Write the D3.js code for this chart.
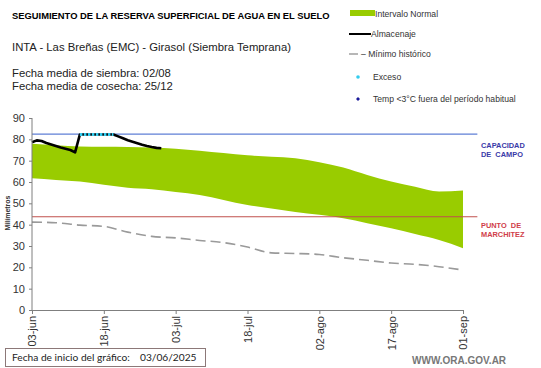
<!DOCTYPE html>
<html>
<head>
<meta charset="utf-8">
<script src="https://cdn.jsdelivr.net/npm/d3@7"></script>
<style>
  body { margin: 0; background: #fff; }
  svg { display: block; font-family: "Liberation Sans", Arial, sans-serif; }
</style>
</head>
<body>
<div id="chart"></div>
<script>
// fechas de los ejes
const startDate = "2025-06-03";
const endDate = "2025-09-01";
const tickLabels = ["03-jun", "18-jun", "03-jul", "18-jul", "02-ago", "17-ago", "01-sep"];
const yTicks = [0, 10, 20, 30, 40, 50, 60, 70, 80, 90];

// intervalo normal (cada 5 dias desde el inicio)
const bandDays = [0, 5, 10, 15, 20, 25, 30, 35, 40, 45, 50, 55, 60, 65, 70, 75, 80, 85, 90];
const bandUpper = [77.9, 77.2, 76.6, 76.5, 76.4, 76.2, 75.6, 74.7, 73.6, 72.5, 71.8, 71.1, 69.3, 66.8, 63.3, 60.2, 57.8, 55.5, 56.0];
const bandLower = [61.7, 60.9, 60.2, 58.7, 57.3, 56.6, 55.3, 53.9, 51.6, 49.2, 47.6, 45.9, 44.6, 43.0, 40.7, 38.3, 35.6, 32.8, 29.0];

// minimo historico
const minDays = [0, 5, 10, 15, 20, 25, 30, 35, 40, 45, 50, 55, 60, 65, 70, 75, 80, 85, 90];
const minValues = [41.2, 40.9, 39.8, 39.2, 36.5, 34.5, 33.8, 32.6, 31.6, 29.5, 26.8, 26.5, 26.0, 24.5, 23.3, 22.0, 21.4, 20.3, 18.7];

// almacenaje diario
const storage = [78.6, 79.5, 79.2, 78.3, 77.6, 76.9, 76.2, 75.6, 75.0, 73.9,
  82.3, 82.3, 82.3, 82.3, 82.3, 82.3, 82.3, 82.3,
  81.4, 80.5, 79.6, 78.9, 78.2, 77.5, 76.9, 76.4, 76.0, 75.8];
// dias con exceso
const excessDays = [10, 11, 12, 13, 14, 15, 16, 17];

const capacidadCampo = 82.4;
const puntoMarchitez = 43.7;

const W = 541, H = 368;
const mLeft = 32, mRight = 463, mTop = 118, mBottom = 310;

const parse = d3.timeParse("%Y-%m-%d");
const t0 = parse(startDate);
const day = i => d3.timeDay.offset(t0, i);

const svg = d3.select("#chart").append("svg")
    .attr("width", W)
    .attr("height", H);

const x = d3.scaleTime()
    .domain([t0, parse(endDate)])
    .range([mLeft, mRight]);

const y = d3.scaleLinear()
    .domain([0, 90])
    .range([mBottom, mTop]);

// banda verde
const band = bandDays.map((d, i) => ({ t: day(d), hi: bandUpper[i], lo: bandLower[i] }));
svg.append("path")
    .datum(band)
    .attr("fill", "#99cc00")
    .attr("d", d3.area().x(d => x(d.t)).y0(d => y(d.lo)).y1(d => y(d.hi)).curve(d3.curveMonotoneX));

// lineas de referencia
const refEnd = d3.timeDay.offset(parse(endDate), 3);
svg.append("line")
    .attr("x1", x(t0)).attr("x2", x(refEnd))
    .attr("y1", y(capacidadCampo)).attr("y2", y(capacidadCampo))
    .attr("stroke", "#5f7fd6").attr("stroke-width", 1.2);
svg.append("line")
    .attr("x1", x(t0)).attr("x2", x(refEnd))
    .attr("y1", y(puntoMarchitez)).attr("y2", y(puntoMarchitez))
    .attr("stroke", "#c0504d").attr("stroke-width", 1.2);

// minimo historico
svg.append("path")
    .datum(minDays.map((d, i) => ({ t: day(d), v: minValues[i] })))
    .attr("fill", "none")
    .attr("stroke", "#9a9a9a")
    .attr("stroke-width", 1.6)
    .attr("stroke-dasharray", "10,5")
    .attr("d", d3.line().x(d => x(d.t)).y(d => y(d.v)).curve(d3.curveMonotoneX));

// almacenaje
const line = d3.line().x(d => x(d.t)).y(d => y(d.v));
svg.append("path")
    .datum(storage.map((v, i) => ({ t: day(i), v })))
    .attr("fill", "none")
    .attr("stroke", "#000")
    .attr("stroke-width", 2.6)
    .attr("stroke-linejoin", "round")
    .attr("d", line);

// exceso
svg.append("path")
    .datum(excessDays.map(d => ({ t: day(d), v: storage[d] })))
    .attr("fill", "none")
    .attr("stroke", "#33ccee")
    .attr("stroke-width", 3)
    .attr("stroke-dasharray", "2.5,1.5")
    .attr("d", line);

// ejes
const yAxis = svg.append("g")
    .attr("transform", `translate(${mLeft},0)`)
    .call(d3.axisLeft(y).tickValues(yTicks).tickSize(3).tickPadding(4));
const xAxis = svg.append("g")
    .attr("transform", `translate(0,${mBottom})`)
    .call(d3.axisBottom(x)
        .tickValues(tickLabels.map((d, i) => day(i * 15)))
        .tickFormat((d, i) => tickLabels[i])
        .tickSize(4)
        .tickSizeOuter(0));
[yAxis, xAxis].forEach(a => {
  a.select(".domain").attr("stroke", "#7f7f7f");
  a.selectAll(".tick line").attr("stroke", "#7f7f7f");
  a.selectAll("text").attr("fill", "#333").style("font-size", "11px");
});
yAxis.select(".domain").attr("d", `M0,${mBottom}V${mTop}`);
xAxis.selectAll("text")
    .attr("transform", "rotate(-90)")
    .attr("text-anchor", "end")
    .attr("x", -6)
    .attr("y", 0)
    .attr("dy", "0.35em");

svg.append("text")
    .attr("transform", `translate(10,213) rotate(-90)`)
    .attr("text-anchor", "middle")
    .style("font-size", "7px")
    .style("font-weight", "bold")
    .attr("fill", "#333")
    .text("Milímetros");

// titulos
svg.append("text").attr("x", 12).attr("y", 19)
    .style("font-size", "9.4px").style("font-weight", "bold")
    .text("SEGUIMIENTO DE LA RESERVA SUPERFICIAL DE AGUA EN EL SUELO");
svg.append("text").attr("x", 12).attr("y", 51)
    .style("font-size", "11.3px").attr("fill", "#222")
    .text("INTA - Las Breñas (EMC) - Girasol (Siembra Temprana)");
svg.append("text").attr("x", 12).attr("y", 77)
    .style("font-size", "11.3px").attr("fill", "#222")
    .text("Fecha media de siembra: 02/08");
svg.append("text").attr("x", 12).attr("y", 90)
    .style("font-size", "11.3px").attr("fill", "#222")
    .text("Fecha media de cosecha: 25/12");

// leyenda
const lg = svg.append("g").style("font-size", "8.6px").attr("fill", "#333");
lg.append("rect").attr("x", 350).attr("y", 10).attr("width", 25).attr("height", 6).attr("fill", "#99cc00");
lg.append("text").attr("x", 375).attr("y", 17).text("Intervalo Normal");
lg.append("line").attr("x1", 349).attr("x2", 371).attr("y1", 34).attr("y2", 34).attr("stroke", "#000").attr("stroke-width", 2);
lg.append("text").attr("x", 371).attr("y", 37).text("Almacenaje");
lg.append("line").attr("x1", 349).attr("x2", 358).attr("y1", 54).attr("y2", 54).attr("stroke", "#999").attr("stroke-width", 1.4);
lg.append("text").attr("x", 361).attr("y", 57).text("– Mínimo histórico");
lg.append("circle").attr("cx", 358).attr("cy", 77).attr("r", 1.8).attr("fill", "#33ccee");
lg.append("text").attr("x", 373).attr("y", 80).text("Exceso");
lg.append("path").attr("d", d3.symbol(d3.symbolSquare, 8)()).attr("transform", "translate(358,99) rotate(45)").attr("fill", "#1a1a9a");
lg.append("text").attr("x", 373).attr("y", 102).text("Temp <3°C fuera del período habitual");

// rotulos a la derecha
const rl = svg.append("g").style("font-size", "7.4px").style("font-weight", "bold");
rl.append("text").attr("x", 481).attr("y", 148).attr("fill", "#3a3aa8").text("CAPACIDAD");
rl.append("text").attr("x", 481).attr("y", 157).attr("fill", "#3a3aa8").attr("xml:space", "preserve").text("DE  CAMPO");
rl.append("text").attr("x", 481).attr("y", 228).attr("fill", "#d0404a").attr("xml:space", "preserve").text("PUNTO  DE");
rl.append("text").attr("x", 481).attr("y", 237).attr("fill", "#d0404a").text("MARCHITEZ");

// recuadro inferior
svg.append("rect").attr("x", 5.5).attr("y", 348.5).attr("width", 200).attr("height", 18)
    .attr("fill", "#fff").attr("stroke", "#8c7878");
svg.append("text").attr("x", 12).attr("y", 361).style("font-size", "10.2px")
    .style("font-family", "Lato, sans-serif").attr("fill", "#222")
    .text("Fecha de inicio del gráfico:");
svg.append("text").attr("x", 140).attr("y", 361).style("font-size", "10.2px")
    .style("font-family", "Lato, sans-serif").attr("fill", "#222")
    .text("03/06/2025");
svg.append("text").attr("x", 412).attr("y", 364).style("font-size", "10px")
    .style("font-weight", "bold").attr("fill", "#777")
    .text("WWW.ORA.GOV.AR");
</script>
</body>
</html>
